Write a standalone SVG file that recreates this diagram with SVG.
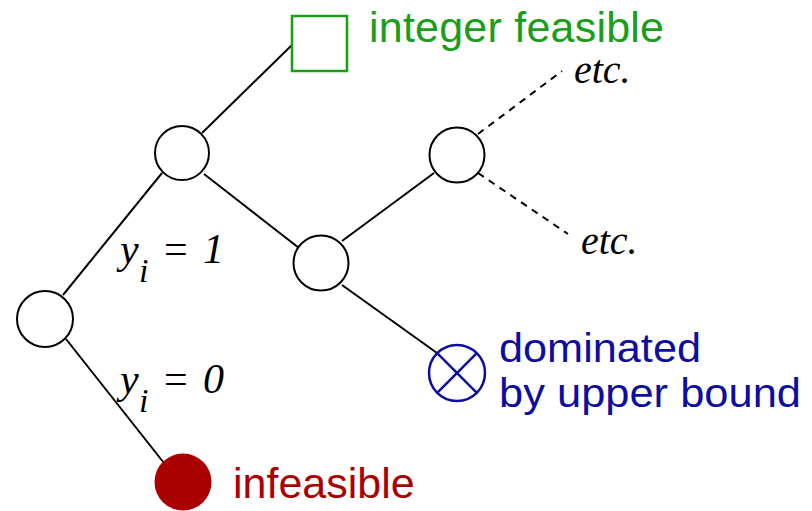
<svg xmlns="http://www.w3.org/2000/svg" width="812" height="511" viewBox="0 0 812 511">
<style>
.edge{stroke:#000;stroke-width:2;fill:none}
.dash{stroke:#000;stroke-width:2;fill:none;stroke-dasharray:7,6}
.node{fill:#fff;stroke:#000;stroke-width:2}
.lbl{font-family:"Liberation Sans",Arial,sans-serif;font-size:43px}
.math{font-family:"Liberation Serif","Times New Roman",serif;font-style:italic;font-size:42px;fill:#000}
.sub{font-size:34px}
</style>
<rect width="812" height="511" fill="#fff"/>
<g id="connectors">
<line class="edge" x1="292" y1="45" x2="202" y2="133"/>
<line class="edge" x1="162" y1="173" x2="63" y2="295"/>
<line class="edge" x1="204" y1="174" x2="299" y2="248"/>
<line class="edge" x1="342" y1="241" x2="434" y2="173"/>
<line class="edge" x1="342" y1="285" x2="437" y2="353"/>
<line class="edge" x1="66" y1="339" x2="164" y2="463"/>
<line class="dash" x1="478" y1="134" x2="562" y2="71"/>
<line class="dash" x1="478" y1="173" x2="568" y2="234"/>
</g>
<g id="n-int">
<rect x="292" y="16" width="55" height="55" fill="#fff" stroke="#1a9e1a" stroke-width="2.5"/>
<text class="lbl" x="369" y="42" fill="#1a9e1a" textLength="295">integer feasible</text>
</g>
<g id="n-a"><circle class="node" cx="182" cy="153" r="27"/></g>
<g id="n-root"><circle class="node" cx="45" cy="319" r="28"/></g>
<g id="n-b"><circle class="node" cx="321" cy="263" r="27.5"/></g>
<g id="n-c"><circle class="node" cx="457" cy="155" r="27.5"/></g>
<g id="n-inf">
<circle cx="183" cy="482" r="28.5" fill="#ab0000"/>
<text class="lbl" x="233" y="498" fill="#ab0000">infeasible</text>
</g>
<g id="n-dom">
<circle cx="457" cy="373" r="28" fill="#fff" stroke="#0d0da0" stroke-width="2.5"/>
<line x1="437.2" y1="353.2" x2="476.8" y2="392.8" stroke="#0d0da0" stroke-width="2.5"/>
<line x1="476.8" y1="353.2" x2="437.2" y2="392.8" stroke="#0d0da0" stroke-width="2.5"/>
<text class="lbl" style="font-size:40px" fill="#0d0da0" x="499" y="362" textLength="202" lengthAdjust="spacingAndGlyphs">dominated</text>
<text class="lbl" style="font-size:40px" fill="#0d0da0" x="499" y="407" textLength="302" lengthAdjust="spacingAndGlyphs">by upper bound</text>
</g>
<g id="etc-labels">
<text class="math" style="font-size:40px" x="574" y="83">etc.</text>
<text class="math" style="font-size:40px" x="581" y="254">etc.</text>
</g>
<g id="edge-labels">
<text class="math" x="120" y="263">y</text>
<text class="math sub" x="139" y="282">i</text>
<text class="math" x="164" y="263" style="font-style:normal">=</text>
<text class="math" x="203" y="263">1</text>
<text class="math" x="120" y="393">y</text>
<text class="math sub" x="139" y="412">i</text>
<text class="math" x="164" y="393" style="font-style:normal">=</text>
<text class="math" x="203" y="393">0</text>
</g>
</svg>
